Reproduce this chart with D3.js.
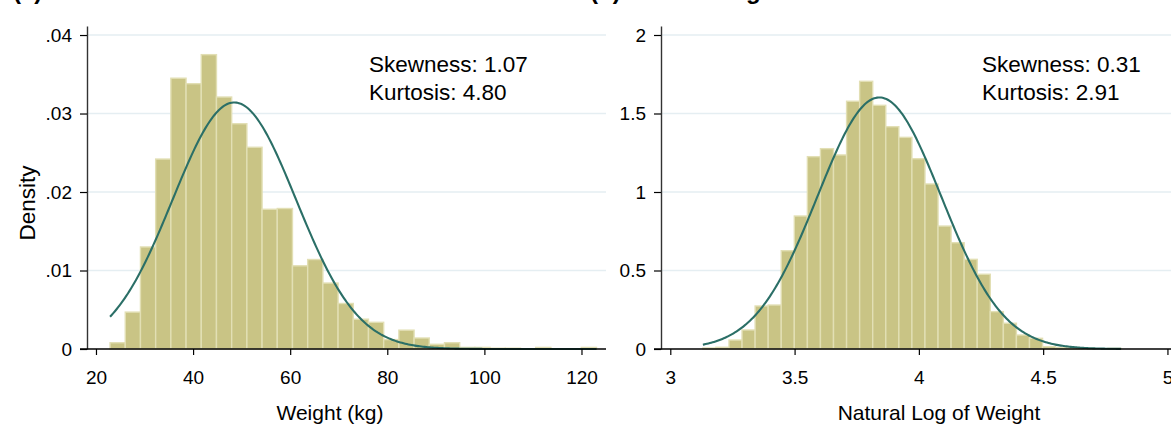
<!DOCTYPE html>
<html>
<head>
<meta charset="utf-8">
<script src="https://cdn.jsdelivr.net/npm/d3@7"></script>
<style>
  body { margin: 0; background: #fff; }
  svg { display: block; }
  text { font-family: "Liberation Sans", Arial, Helvetica, sans-serif; fill: #000; }
</style>
</head>
<body>
<svg id="chart" width="1171" height="426"></svg>
<script>
// ---- Panel (a): weight in kg, 32 equal-width bins, density scale ----
const weightBinStart = 22.9;
const weightBinWidth = 3.131;
const weightDensity = [
  0.0008, 0.0047, 0.0130, 0.0242, 0.0345, 0.0338, 0.0375, 0.0321,
  0.0287, 0.0257, 0.0178, 0.0179, 0.0106, 0.0114, 0.0084, 0.0058,
  0.0038, 0.0034, 0.0012, 0.0024, 0.0014, 0.0006, 0.0008, 0.0002,
  0.0002, 0.0001, 0.0001, 0.0000, 0.0002, 0.0000, 0.0000, 0.0002
];
const weightMean = 48.5;
const weightSD = 12.7;
const weightTicks = [20, 40, 60, 80, 100, 120];
const weightTickLabels = ["20", "40", "60", "80", "100", "120"];
const weightDensityTicks = [0, 0.01, 0.02, 0.03, 0.04];
const weightDensityLabels = ["0", ".01", ".02", ".03", ".04"];
const weightStats = ["Skewness: 1.07", "Kurtosis: 4.80"];

// ---- Panel (b): natural log of weight, 32 equal-width bins ----
const logBinStart = 3.131;
const logBinWidth = 0.05256;
const logDensity = [
  0.006, 0.011, 0.057, 0.121, 0.274, 0.280, 0.626, 0.847,
  1.225, 1.276, 1.236, 1.578, 1.705, 1.552, 1.416, 1.348,
  1.212, 1.051, 0.783, 0.677, 0.571, 0.476, 0.238, 0.164,
  0.089, 0.068, 0.015, 0.008, 0.004, 0.004, 0.000, 0.004
];
const logMean = 3.841;
const logSD = 0.249;
const logTicks = [3, 3.5, 4, 4.5, 5];
const logTickLabels = ["3", "3.5", "4", "4.5", "5"];
const logDensityTicks = [0, 0.5, 1, 1.5, 2];
const logDensityLabels = ["0", "0.5", "1", "1.5", "2"];
const logStats = ["Skewness: 0.31", "Kurtosis: 2.91"];

// ---- styling ----
const barFill = "#c9c485";
const barEdge = "#e2dfb4";
const curveColor = "#2b6f67";
const gridColor = "#e5eef2";

const svg = d3.select("#chart");

const panels = [
  {
    title: "(a) Untransformed", titleX: 13,
    xDomain: [18.15, 125.05], xRange: [87, 606],
    yDomain: [0, 0.04115], yRange: [349, 26],
    binStart: weightBinStart, binWidth: weightBinWidth, density: weightDensity,
    mean: weightMean, sd: weightSD,
    xTicks: weightTicks, xTickLabels: weightTickLabels,
    yTicks: weightDensityTicks, yTickLabels: weightDensityLabels,
    stats: weightStats, statsX: 369,
    xTitle: "Weight (kg)", xTitleX: 330,
    yTitle: "Density"
  },
  {
    title: "(b) Natural Log", titleX: 590,
    xDomain: [2.9626, 5.0143], xRange: [661, 1171],
    yDomain: [0, 2.0573], yRange: [349, 26],
    binStart: logBinStart, binWidth: logBinWidth, density: logDensity,
    mean: logMean, sd: logSD,
    xTicks: logTicks, xTickLabels: logTickLabels,
    yTicks: logDensityTicks, yTickLabels: logDensityLabels,
    stats: logStats, statsX: 982,
    xTitle: "Natural Log of Weight", xTitleX: 939,
    yTitle: null
  }
];

function normalPdf(x, mu, sd) {
  const z = (x - mu) / sd;
  return Math.exp(-0.5 * z * z) / (sd * Math.sqrt(2 * Math.PI));
}

panels.forEach(p => {
  const x = d3.scaleLinear().domain(p.xDomain).range(p.xRange);
  const y = d3.scaleLinear().domain(p.yDomain).range(p.yRange);
  const g = svg.append("g");

  // horizontal grid lines at each y tick
  g.append("g").selectAll("line")
    .data(p.yTicks.filter(v => v > 0))
    .join("line")
    .attr("x1", p.xRange[0]).attr("x2", p.xRange[1])
    .attr("y1", d => y(d)).attr("y2", d => y(d))
    .attr("stroke", gridColor).attr("stroke-width", 1.6);

  // histogram bars
  const bins = p.density.map((d, i) => ({
    x0: p.binStart + i * p.binWidth,
    x1: p.binStart + (i + 1) * p.binWidth,
    d
  })).filter(b => b.d > 0);
  g.append("g").selectAll("rect")
    .data(bins)
    .join("rect")
    .attr("x", b => x(b.x0))
    .attr("width", b => x(b.x1) - x(b.x0))
    .attr("y", b => y(b.d))
    .attr("height", b => y(0) - y(b.d))
    .attr("fill", barFill)
    .attr("stroke", barEdge)
    .attr("stroke-width", 1.4);

  // fitted normal density over the data range
  const lo = p.binStart, hi = p.binStart + p.density.length * p.binWidth;
  const pts = d3.range(0, 301).map(i => {
    const v = lo + (hi - lo) * i / 300;
    return [v, normalPdf(v, p.mean, p.sd)];
  });
  g.append("path")
    .datum(pts)
    .attr("d", d3.line().x(d => x(d[0])).y(d => y(d[1])))
    .attr("fill", "none")
    .attr("stroke", curveColor)
    .attr("stroke-width", 2.1);

  // y axis
  const yAxis = d3.axisLeft(y)
    .tickValues(p.yTicks)
    .tickFormat((d, i) => p.yTickLabels[i])
    .tickSize(7).tickPadding(8).tickSizeOuter(0);
  const ya = g.append("g")
    .attr("transform", `translate(${p.xRange[0]},0)`)
    .call(yAxis);
  ya.select(".domain").attr("stroke", "#333").attr("stroke-width", 1.4);
  ya.selectAll(".tick line").attr("stroke", "#000").attr("stroke-width", 1.2);
  ya.selectAll(".tick text").attr("font-size", 19).attr("fill", "#000")
    .attr("font-family", "Liberation Sans, Arial, sans-serif");

  // x axis
  const xAxis = d3.axisBottom(x)
    .tickValues(p.xTicks)
    .tickFormat((d, i) => p.xTickLabels[i])
    .tickSize(6).tickPadding(16).tickSizeOuter(0);
  const xa = g.append("g")
    .attr("transform", `translate(0,${p.yRange[0]})`)
    .call(xAxis);
  xa.select(".domain")
    .attr("d", `M${p.xRange[0] - 7},0H${p.xRange[1]}`)
    .attr("stroke", "#000").attr("stroke-width", 1.4);
  xa.selectAll(".tick line").attr("stroke", "#000").attr("stroke-width", 1.2);
  xa.selectAll(".tick text").attr("font-size", 19).attr("fill", "#000")
    .attr("font-family", "Liberation Sans, Arial, sans-serif");

  // skewness / kurtosis note
  g.append("g").selectAll("text")
    .data(p.stats)
    .join("text")
    .attr("x", p.statsX)
    .attr("y", (d, i) => 72 + i * 27.5)
    .attr("font-size", 22.5)
    .text(d => d);

  // axis titles
  g.append("text")
    .attr("x", p.xTitleX).attr("y", 420)
    .attr("text-anchor", "middle")
    .attr("font-size", 21)
    .text(p.xTitle);
  if (p.yTitle) {
    g.append("text")
      .attr("transform", "translate(35,203) rotate(-90)")
      .attr("text-anchor", "middle")
      .attr("font-size", 22.5)
      .text(p.yTitle);
  }

  // panel title (sits mostly above the visible area)
  g.append("text")
    .attr("x", p.titleX).attr("y", -1)
    .attr("font-size", 24)
    .attr("font-weight", "bold")
    .text(p.title);
});
</script>
</body>
</html>
